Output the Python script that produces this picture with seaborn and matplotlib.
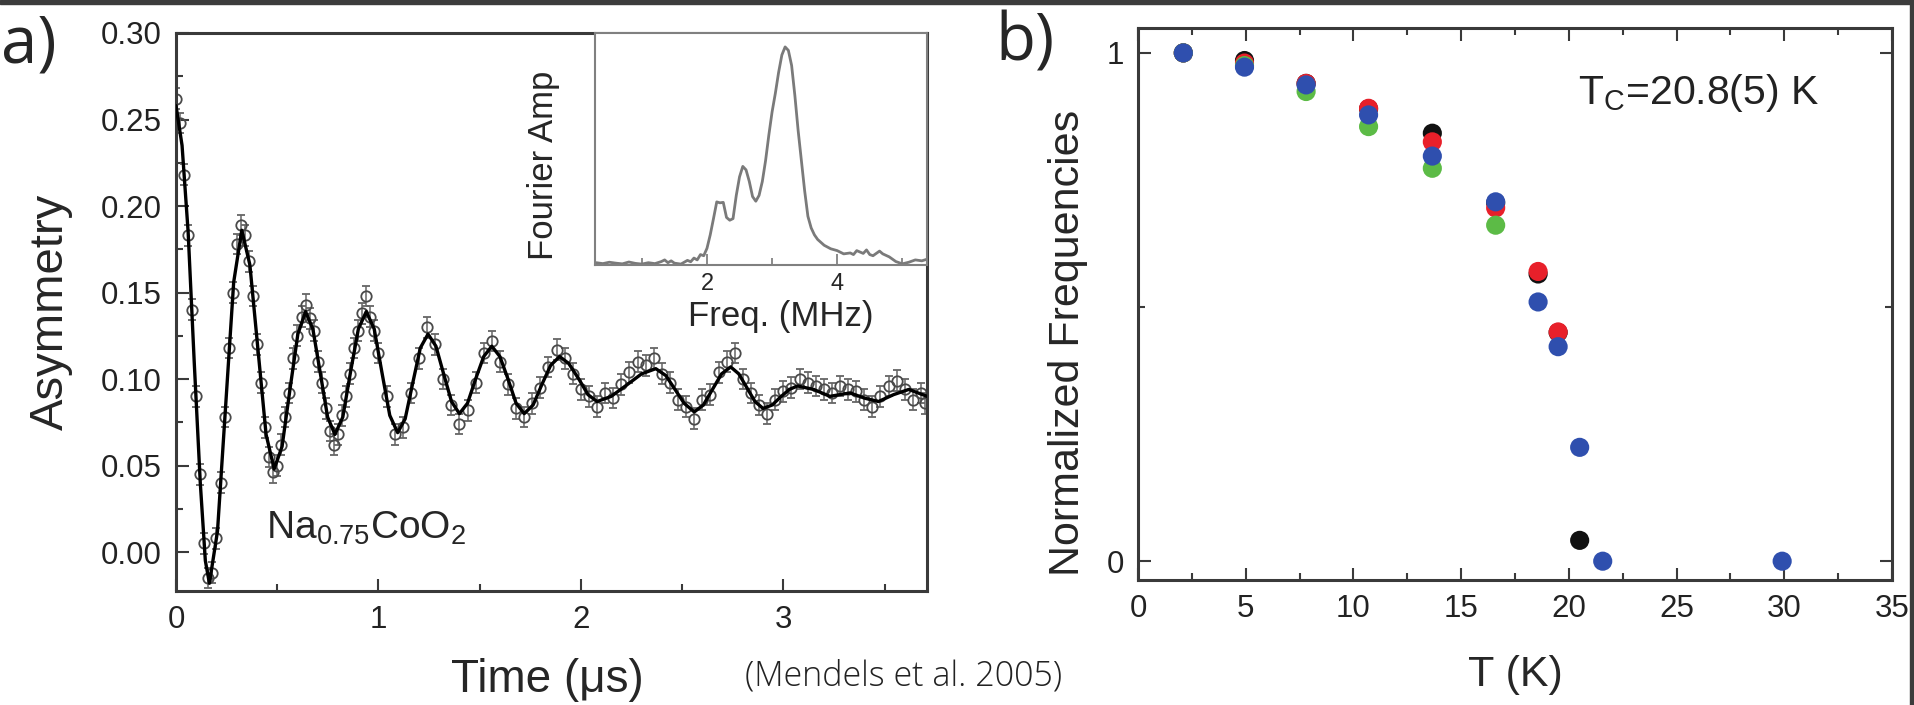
import numpy as np
import pandas as pd
import matplotlib
matplotlib.use("Agg")
import matplotlib.pyplot as plt
import seaborn as sns
from matplotlib.ticker import MultipleLocator, NullLocator, FormatStrFormatter
from matplotlib.patches import Rectangle

# ---- panel a: muon asymmetry, fit curve
fit_t = [0.000, 0.030, 0.060, 0.090, 0.120, 0.145, 0.165, 0.205, 0.245, 0.285,
         0.325, 0.365, 0.405, 0.445, 0.485, 0.524, 0.563, 0.602, 0.640, 0.676,
         0.712, 0.749, 0.785, 0.824, 0.862, 0.901, 0.940, 0.979, 1.017, 1.056,
         1.095, 1.132, 1.170, 1.207, 1.245, 1.284, 1.322, 1.361, 1.400, 1.440,
         1.480, 1.520, 1.560, 1.600, 1.640, 1.680, 1.720, 1.764, 1.808, 1.851,
         1.895, 1.940, 1.990, 2.035, 2.080, 2.150, 2.220, 2.300, 2.370, 2.420,
         2.465, 2.510, 2.560, 2.605, 2.650, 2.695, 2.740, 2.780, 2.820, 2.860,
         2.900, 2.945, 2.990, 3.030, 3.070, 3.150, 3.230, 3.280, 3.330, 3.400,
         3.470, 3.545, 3.620, 3.710]
fit_v = [0.258, 0.235, 0.185, 0.110, 0.040, -0.005, -0.018, 0.012, 0.084, 0.156,
         0.186, 0.166, 0.117, 0.068, 0.048, 0.061, 0.094, 0.126, 0.139, 0.129,
         0.104, 0.078, 0.068, 0.078, 0.104, 0.129, 0.139, 0.129, 0.104, 0.079,
         0.069, 0.077, 0.098, 0.118, 0.126, 0.119, 0.103, 0.087, 0.080, 0.086,
         0.100, 0.113, 0.119, 0.113, 0.100, 0.086, 0.080, 0.085, 0.097, 0.108,
         0.113, 0.109, 0.100, 0.091, 0.087, 0.090, 0.096, 0.103, 0.106, 0.102,
         0.094, 0.086, 0.081, 0.085, 0.094, 0.103, 0.107, 0.103, 0.095, 0.087,
         0.083, 0.085, 0.090, 0.094, 0.096, 0.094, 0.090, 0.091, 0.092, 0.089,
         0.087, 0.091, 0.094, 0.090]

# measured points
data_t = [0.00, 0.02, 0.04, 0.06, 0.08, 0.10, 0.12, 0.14, 0.16, 0.18,
          0.20, 0.22, 0.24, 0.26, 0.28, 0.30, 0.32, 0.34, 0.36, 0.38,
          0.40, 0.42, 0.44, 0.46, 0.48, 0.50, 0.52, 0.54, 0.56, 0.58,
          0.60, 0.62, 0.64, 0.66, 0.68, 0.70, 0.72, 0.74, 0.76, 0.78,
          0.80, 0.82, 0.84, 0.86, 0.88, 0.90, 0.92, 0.94, 0.96, 0.98,
          1.00, 1.04, 1.08, 1.12, 1.16, 1.20, 1.24, 1.28, 1.32, 1.36,
          1.40, 1.44, 1.48, 1.52, 1.56, 1.60, 1.64, 1.68, 1.72, 1.76,
          1.80, 1.84, 1.88, 1.92, 1.96, 2.00, 2.04, 2.08, 2.12, 2.16,
          2.20, 2.24, 2.28, 2.32, 2.36, 2.40, 2.44, 2.48, 2.52, 2.56,
          2.60, 2.64, 2.68, 2.72, 2.76, 2.80, 2.84, 2.88, 2.92, 2.96,
          3.00, 3.04, 3.08, 3.12, 3.16, 3.20, 3.24, 3.28, 3.32, 3.36,
          3.40, 3.44, 3.48, 3.52, 3.56, 3.60, 3.64, 3.68, 3.70]
data_v = [0.262, 0.248, 0.218, 0.183, 0.140, 0.090, 0.045, 0.005, -0.015, -0.012,
          0.008, 0.040, 0.078, 0.118, 0.150, 0.178, 0.189, 0.183, 0.168, 0.148,
          0.120, 0.098, 0.072, 0.055, 0.046, 0.050, 0.062, 0.078, 0.092, 0.112,
          0.125, 0.136, 0.143, 0.135, 0.128, 0.110, 0.098, 0.083, 0.070, 0.062,
          0.068, 0.079, 0.090, 0.103, 0.118, 0.128, 0.138, 0.148, 0.136, 0.128,
          0.115, 0.090, 0.068, 0.072, 0.092, 0.112, 0.130, 0.120, 0.100, 0.085,
          0.074, 0.082, 0.098, 0.115, 0.122, 0.110, 0.097, 0.083, 0.078, 0.086,
          0.095, 0.107, 0.117, 0.112, 0.103, 0.094, 0.090, 0.084, 0.092, 0.089,
          0.097, 0.104, 0.110, 0.108, 0.112, 0.103, 0.098, 0.088, 0.084, 0.077,
          0.088, 0.091, 0.104, 0.110, 0.115, 0.100, 0.092, 0.085, 0.080, 0.088,
          0.093, 0.095, 0.100, 0.098, 0.096, 0.094, 0.092, 0.096, 0.094, 0.093,
          0.088, 0.084, 0.090, 0.096, 0.099, 0.094, 0.088, 0.092, 0.086]
data_err = 0.006

# inset: Fourier amplitude
freq = [0.30, 0.40, 0.50, 0.60, 0.70, 0.80, 0.90, 1.00, 1.10, 1.20,
        1.30, 1.35, 1.40, 1.45, 1.50, 1.55, 1.60, 1.65, 1.70, 1.75,
        1.80, 1.85, 1.90, 1.95, 2.00, 2.05, 2.10, 2.15, 2.20, 2.25,
        2.30, 2.35, 2.40, 2.45, 2.50, 2.55, 2.60, 2.65, 2.70, 2.75,
        2.80, 2.85, 2.90, 2.95, 3.00, 3.05, 3.10, 3.15, 3.20, 3.25,
        3.30, 3.35, 3.40, 3.45, 3.50, 3.55, 3.60, 3.65, 3.70, 3.80,
        3.90, 4.00, 4.10, 4.20, 4.25, 4.30, 4.40, 4.45, 4.50, 4.55,
        4.65, 4.70, 4.80, 4.90, 5.00, 5.10, 5.20, 5.30, 5.38]
amp = [0.010, 0.006, 0.012, 0.008, 0.005, 0.013, 0.007, 0.004, 0.010, 0.006,
       0.015, 0.022, 0.010, 0.018, 0.008, 0.006, 0.004, 0.012, 0.020, 0.014,
       0.030, 0.022, 0.045, 0.040, 0.072, 0.130, 0.200, 0.272, 0.268, 0.270,
       0.205, 0.193, 0.200, 0.300, 0.380, 0.425, 0.410, 0.360, 0.295, 0.275,
       0.300, 0.360, 0.450, 0.560, 0.660, 0.740, 0.830, 0.905, 0.940, 0.925,
       0.860, 0.730, 0.580, 0.450, 0.320, 0.210, 0.160, 0.130, 0.110, 0.085,
       0.070, 0.062, 0.048, 0.052, 0.045, 0.062, 0.050, 0.065, 0.045, 0.040,
       0.060, 0.048, 0.035, 0.015, 0.005, 0.012, 0.022, 0.018, 0.025]

# ---- panel b: normalized frequencies vs T
T_black = [2.1, 4.94, 7.8, 10.7, 13.66, 16.6, 18.57, 19.5, 20.5]
f_black = [1.0, 0.985, 0.94, 0.89, 0.842, 0.705, 0.565, 0.45, 0.041]
T_red = [2.1, 4.94, 7.8, 10.7, 13.66, 16.6, 18.57, 19.5]
f_red = [1.0, 0.98, 0.94, 0.891, 0.825, 0.695, 0.570, 0.451]
T_green = [2.1, 4.94, 7.8, 10.7, 13.66, 16.6]
f_green = [1.0, 0.975, 0.924, 0.855, 0.773, 0.661]
T_blue = [2.1, 4.94, 7.8, 10.7, 13.66, 16.6, 18.57, 19.5, 20.5, 21.57, 29.9]
f_blue = [1.0, 0.972, 0.937, 0.878, 0.797, 0.707, 0.510, 0.422, 0.224, 0.0, 0.0]

series_colors = {"black": "#111111", "red": "#e8202a", "green": "#5cbb46", "blue": "#2f4fae"}

df_b = pd.concat([
    pd.DataFrame({"T": T_black, "f": f_black, "s": "black"}),
    pd.DataFrame({"T": T_red, "f": f_red, "s": "red"}),
    pd.DataFrame({"T": T_green, "f": f_green, "s": "green"}),
    pd.DataFrame({"T": T_blue, "f": f_blue, "s": "blue"}),
], ignore_index=True)

sns.set_style("ticks")
plt.rcParams["font.family"] = ["Liberation Sans", "DejaVu Sans"]
plt.rcParams["mathtext.fontset"] = "custom"
plt.rcParams["mathtext.rm"] = "Liberation Sans"
plt.rcParams["mathtext.it"] = "Liberation Sans:italic"

spine_c = "#3a3a3a"
tick_fs = 22.5

fig = plt.figure(figsize=(19.15, 7.05), dpi=100)
ax_a = fig.add_axes([0.0919, 0.1617, 0.3922, 0.7915])
ax_b = fig.add_axes([0.5943, 0.1773, 0.3937, 0.7830])
ax_in = fig.add_axes([0.3107, 0.6241, 0.1734, 0.3291])

# panel a
ax_a.errorbar(data_t, data_v, yerr=data_err, fmt="o", ms=7.5, mfc="none", mec="#4a4a4a",
              mew=1.3, ecolor="#666666", elinewidth=1.1, capsize=3, zorder=2)
sns.lineplot(x=fit_t, y=fit_v, ax=ax_a, color="black", lw=2.4, zorder=3, sort=False)
ax_a.set_xlim(0, 3.71)
ax_a.set_ylim(-0.0225, 0.30)
ax_a.xaxis.set_major_locator(MultipleLocator(1))
ax_a.xaxis.set_minor_locator(MultipleLocator(0.5))
ax_a.yaxis.set_major_locator(MultipleLocator(0.05))
ax_a.yaxis.set_minor_locator(MultipleLocator(0.025))
ax_a.yaxis.set_major_formatter(FormatStrFormatter("%.2f"))
ax_a.tick_params(which="both", direction="in", color=spine_c, width=1.5,
                 labelsize=tick_fs, labelcolor="#222222", pad=10)
ax_a.tick_params(which="major", length=9)
ax_a.tick_params(which="minor", length=5)
ax_a.set_xlabel("Time (μs)", fontsize=33)
ax_a.set_ylabel("Asymmetry", fontsize=34)
ax_a.xaxis.set_label_coords(0.495, -0.12)
ax_a.yaxis.set_label_coords(-0.137, 0.5)
ax_a.text(0.444, 0.008, r"Na$_{0.75}$CoO$_2$", fontsize=28, ha="left", va="baseline")

# inset
sns.lineplot(x=freq, y=amp, ax=ax_in, color="#7a7a7a", lw=2.0)
ax_in.set_xlim(0.28, 5.38)
ax_in.set_ylim(0, 1.0)
ax_in.xaxis.set_major_locator(MultipleLocator(2))
ax_in.xaxis.set_minor_locator(MultipleLocator(1))
ax_in.yaxis.set_major_locator(NullLocator())
ax_in.tick_params(which="both", direction="in", color="#777777", width=1.2,
                  labelsize=17, pad=6)
ax_in.tick_params(which="major", length=8)
ax_in.tick_params(which="minor", length=5)
ax_in.set_xlabel("Freq. (MHz)", fontsize=25)
ax_in.set_ylabel("Fourier Amp", fontsize=25)
ax_in.xaxis.set_label_coords(0.56, -0.15)
ax_in.yaxis.set_label_coords(-0.105, 0.43)
for sp in ax_in.spines.values():
    sp.set_color("#808080")
    sp.set_linewidth(1.5)

# panel b
sns.scatterplot(data=df_b, x="T", y="f", hue="s", palette=series_colors, s=190,
                edgecolor="none", legend=False, ax=ax_b)
ax_b.set_xlim(0, 35)
ax_b.set_ylim(-0.037, 1.049)
ax_b.xaxis.set_major_locator(MultipleLocator(5))
ax_b.xaxis.set_minor_locator(MultipleLocator(2.5))
ax_b.yaxis.set_major_locator(MultipleLocator(1))
ax_b.yaxis.set_minor_locator(MultipleLocator(0.5))
ax_b.tick_params(which="both", direction="in", color=spine_c, width=1.5,
                 top=True, right=True, labelsize=tick_fs, labelcolor="#222222", pad=10)
ax_b.tick_params(which="major", length=9)
ax_b.tick_params(which="minor", length=5)
ax_b.set_xlabel("T (K)", fontsize=31)
ax_b.set_ylabel("Normalized Frequencies", fontsize=31)
ax_b.xaxis.set_label_coords(0.5, -0.136)
ax_b.yaxis.set_label_coords(-0.066, 0.43)
ax_b.text(20.4, 0.90, r"T$_{\rm C}$=20.8(5) K", fontsize=29.5, ha="left", va="baseline",
          color="#222222")

for ax in (ax_a, ax_b):
    for sp in ax.spines.values():
        sp.set_color(spine_c)
        sp.set_linewidth(2.2)

# panel letters and citation
fig.text(0.015, 0.935, "a)", fontsize=47, ha="center", va="center",
         family=["Open Sans", "DejaVu Sans"])
fig.text(0.535, 0.938, "b)", fontsize=47, ha="center", va="center",
         family=["Open Sans", "DejaVu Sans"])
fig.text(0.472, 0.041, "(Mendels et al. 2005)", fontsize=24.5, ha="center", va="center",
         family=["Open Sans", "DejaVu Sans"], weight="light", color="#222222")

# dark frame edges of the screenshot
fig.patches.append(Rectangle((0, 1 - 4 / 705), 1, 4 / 705, transform=fig.transFigure,
                             color="#3c3c3c", zorder=10))
fig.patches.append(Rectangle((1 - 5 / 1915, 0), 5 / 1915, 1, transform=fig.transFigure,
                             color="#3c3c3c", zorder=10))

fig.savefig("out.png", dpi=100)
